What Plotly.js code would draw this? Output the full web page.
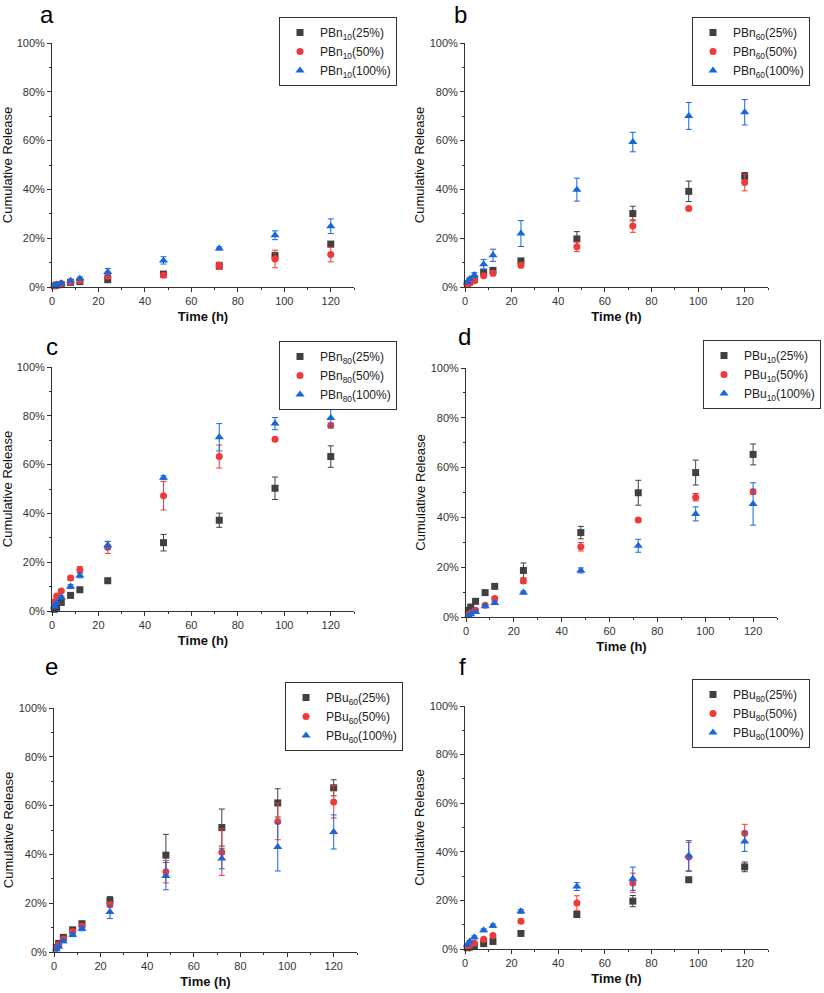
<!DOCTYPE html>
<html>
<head>
<meta charset="utf-8">
<script src="https://cdn.plot.ly/plotly-3.0.1.min.js"></script>
<style>
  html, body { margin: 0; padding: 0; background: #fff; }
  #chart { width: 824px; height: 993px; }
</style>
</head>
<body>
<div id="chart"></div>
<script>
// sampling times (h)
const times = [1, 2, 4, 8, 12, 24, 48, 72, 96, 120];

// a - PBn10
const pbn10_25 = [0.5, 0.8, 1.0, 1.9, 2.2, 3.0, 5.3, 8.7, 12.7, 17.6];
const pbn10_25_err = [0.2, 0.2, 0.3, 0.3, 0.4, 0.5, 0.6, 0.8, 1.5, 1.0];
const pbn10_50 = [0.5, 0.9, 1.4, 2.3, 2.7, 4.4, 4.8, 8.7, 11.5, 13.3];
const pbn10_50_err = [0.2, 0.3, 0.3, 0.4, 0.4, 0.8, 0.7, 1.5, 3.6, 3.0];
const pbn10_100 = [0.5, 1.0, 1.5, 2.6, 3.5, 6.1, 10.9, 15.8, 21.2, 24.9];
const pbn10_100_err = [0.2, 0.3, 0.3, 0.5, 0.6, 1.5, 1.5, 0.6, 1.8, 3.0];

// b - PBn60
const pbn60_25 = [1.4, 2.0, 3.0, 6.1, 6.8, 10.7, 19.7, 30.1, 39.2, 45.4];
const pbn60_25_err = [0.3, 0.4, 0.5, 0.6, 0.6, 0.6, 3.0, 3.0, 4.2, 1.5];
const pbn60_50 = [1.0, 1.6, 2.6, 4.6, 5.6, 8.9, 16.5, 25.0, 32.2, 42.8];
const pbn60_50_err = [0.3, 0.4, 0.5, 0.6, 1.0, 1.0, 2.0, 2.6, 0.6, 3.4];
const pbn60_100 = [1.9, 3.3, 4.9, 9.3, 13.0, 21.9, 39.9, 59.4, 70.1, 71.6];
const pbn60_100_err = [0.4, 0.6, 1.0, 2.0, 2.5, 5.3, 4.7, 4.0, 5.5, 5.2];

// c - PBn80
const pbn80_25 = [0.7, 1.4, 3.5, 6.4, 8.7, 12.4, 28.0, 37.2, 50.3, 63.3];
const pbn80_25_err = [0.3, 0.4, 0.5, 0.5, 0.6, 0.8, 3.4, 2.9, 4.6, 4.4];
const pbn80_50 = [3.8, 6.1, 8.2, 13.5, 16.9, 26.1, 47.2, 63.3, 70.4, 76.0];
const pbn80_50_err = [0.5, 0.5, 0.6, 0.8, 1.3, 2.5, 5.8, 4.7, 0.8, 1.0];
const pbn80_100 = [1.8, 3.4, 5.6, 10.0, 14.6, 26.9, 54.6, 71.2, 76.8, 79.1];
const pbn80_100_err = [0.4, 0.5, 0.6, 0.8, 1.0, 1.5, 0.8, 5.6, 2.5, 3.5];

// d - PBu10
const pbu10_25 = [2.7, 4.0, 6.3, 9.8, 12.3, 18.7, 33.9, 49.9, 58.0, 65.3];
const pbu10_25_err = [0.4, 0.5, 0.6, 0.6, 0.7, 3.0, 2.5, 5.0, 5.0, 4.2];
const pbu10_50 = [0.9, 1.6, 2.7, 4.7, 7.4, 14.5, 28.2, 39.0, 48.1, 50.3];
const pbu10_50_err = [0.3, 0.4, 0.5, 0.6, 0.7, 1.0, 1.7, 0.6, 1.5, 1.0];
const pbu10_100 = [0.5, 1.1, 2.0, 4.3, 5.6, 9.8, 18.7, 28.6, 41.4, 45.4];
const pbu10_100_err = [0.2, 0.3, 0.4, 0.5, 0.6, 0.6, 1.0, 2.6, 2.8, 8.5];

// e - PBu60
const pbu60_25 = [1.9, 3.5, 6.0, 9.1, 11.6, 21.1, 39.7, 51.0, 61.1, 67.3];
const pbu60_25_err = [0.4, 0.5, 0.6, 0.7, 0.8, 1.6, 8.5, 7.6, 5.8, 3.3];
const pbu60_50 = [1.4, 2.9, 5.2, 8.3, 10.6, 19.4, 32.9, 40.9, 53.5, 61.5];
const pbu60_50_err = [0.3, 0.4, 0.6, 0.7, 0.8, 1.0, 4.6, 9.5, 7.5, 6.6];
const pbu60_100 = [1.1, 2.2, 4.4, 7.1, 9.5, 16.4, 31.1, 38.3, 43.0, 49.2];
const pbu60_100_err = [0.3, 0.4, 0.6, 0.8, 0.8, 2.7, 5.6, 4.2, 9.8, 7.0];

// f - PBu80
const pbu80_25 = [0.5, 0.8, 1.4, 2.2, 3.1, 6.4, 14.2, 19.7, 28.5, 33.8];
const pbu80_25_err = [0.2, 0.2, 0.3, 0.3, 0.4, 0.5, 0.6, 2.3, 0.6, 2.0];
const pbu80_50 = [0.8, 1.5, 2.5, 4.0, 5.6, 11.4, 18.9, 27.2, 37.9, 47.6];
const pbu80_50_err = [0.2, 0.3, 0.4, 0.5, 0.6, 0.8, 3.0, 4.0, 6.0, 3.7];
const pbu80_100 = [1.8, 3.1, 4.8, 7.7, 9.6, 15.5, 25.7, 28.9, 38.4, 44.2];
const pbu80_100_err = [0.3, 0.4, 0.6, 0.6, 0.7, 0.8, 1.6, 4.8, 6.2, 4.0];

const loadings = ["25%", "50%", "100%"];

const W = 824, H = 993;
const FONT = "Liberation Sans, Arial, sans-serif";

// styles of the three loadings
const styles = [
    { color: "#404040", symbol: "square", size: 7 },
    { color: "#f03a3a", symbol: "circle", size: 7 },
    { color: "#1a66d9", symbol: "triangle-up", size: 8 },
];

// panel boxes in pixels: [left, right, top, bottom], legend top-right, letter centre
const panels = [
    { letter: "a", name: "PBn", sub: "10", data: [[pbn10_25, pbn10_25_err], [pbn10_50, pbn10_50_err], [pbn10_100, pbn10_100_err]],
      box: [52, 354, 43, 287], leg: [397, 17], lab: [47, 15] },
    { letter: "b", name: "PBn", sub: "60", data: [[pbn60_25, pbn60_25_err], [pbn60_50, pbn60_50_err], [pbn60_100, pbn60_100_err]],
      box: [465, 768, 43, 287], leg: [810, 17], lab: [460, 15] },
    { letter: "c", name: "PBn", sub: "80", data: [[pbn80_25, pbn80_25_err], [pbn80_50, pbn80_50_err], [pbn80_100, pbn80_100_err]],
      box: [52, 354, 367, 611], leg: [397, 341], lab: [52, 346] },
    { letter: "d", name: "PBu", sub: "10", data: [[pbu10_25, pbu10_25_err], [pbu10_50, pbu10_50_err], [pbu10_100, pbu10_100_err]],
      box: [466, 777, 368, 617], leg: [821, 340], lab: [464, 336] },
    { letter: "e", name: "PBu", sub: "60", data: [[pbu60_25, pbu60_25_err], [pbu60_50, pbu60_50_err], [pbu60_100, pbu60_100_err]],
      box: [54, 357, 708, 952], leg: [403, 682], lab: [51, 666] },
    { letter: "f", name: "PBu", sub: "80", data: [[pbu80_25, pbu80_25_err], [pbu80_50, pbu80_50_err], [pbu80_100, pbu80_100_err]],
      box: [465, 768, 706, 949], leg: [810, 679], lab: [462, 666] },
];

const traces = [];
const layout = {
    width: W,
    height: H,
    margin: { l: 0, r: 0, t: 0, b: 0 },
    paper_bgcolor: "#fff",
    plot_bgcolor: "#fff",
    font: { family: FONT, color: "#222" },
    showlegend: true,
    annotations: [],
};

panels.forEach((p, i) => {
    const n = i === 0 ? "" : String(i + 1);
    const legName = "legend" + n;

    p.data.forEach(([vals, errs], k) => {
        const s = styles[k];
        traces.push({
            type: "scatter",
            mode: "markers",
            x: times,
            y: vals,
            name: p.name + "<sub>" + p.sub + "</sub>(" + loadings[k] + ")",
            xaxis: "x" + n,
            yaxis: "y" + n,
            legend: legName,
            marker: { color: s.color, symbol: s.symbol, size: s.size },
            error_y: { type: "data", array: errs, visible: true, color: s.color, thickness: 1, width: 3 },
            cliponaxis: false,
        });
    });

    const [l, r, t, b] = p.box;
    layout["xaxis" + n] = {
        domain: [l / W, r / W],
        anchor: "y" + n,
        range: [0, 130],
        dtick: 20,
        tick0: 0,
        ticks: "outside",
        ticklen: 4,
        tickcolor: "#333",
        minor: { ticks: "outside", dtick: 10, ticklen: 2, tickcolor: "#333" },
        showline: true,
        linecolor: "#333",
        linewidth: 1,
        showgrid: false,
        zeroline: false,
        tickfont: { size: 11, color: "#333" },
        title: { text: "Time (h)", font: { size: 13, color: "#111", weight: 600 }, standoff: 5 },
    };
    layout["yaxis" + n] = {
        domain: [1 - b / H, 1 - t / H],
        anchor: "x" + n,
        range: [0, 100],
        dtick: 20,
        ticksuffix: "%",
        ticks: "outside",
        ticklen: 4,
        tickcolor: "#333",
        minor: { ticks: "outside", dtick: 10, ticklen: 2, tickcolor: "#333" },
        showline: true,
        linecolor: "#333",
        linewidth: 1,
        showgrid: false,
        zeroline: false,
        tickfont: { size: 11, color: "#333" },
        title: { text: "Cumulative Release", font: { size: 13, color: "#111" }, standoff: 2 },
    };
    layout[legName] = {
        x: p.leg[0] / W,
        y: 1 - p.leg[1] / H,
        xanchor: "right",
        yanchor: "top",
        bgcolor: "#fff",
        bordercolor: "#333",
        borderwidth: 1,
        font: { size: 12, color: "#222" },
        itemwidth: 30,
        tracegroupgap: 0,
    };
    layout.annotations.push({
        text: p.letter,
        xref: "paper",
        yref: "paper",
        x: p.lab[0] / W,
        y: 1 - p.lab[1] / H,
        xanchor: "center",
        yanchor: "middle",
        showarrow: false,
        font: { size: 24, color: "#000" },
    });
});

Plotly.newPlot("chart", traces, layout, { displayModeBar: false, staticPlot: true });
</script>
</body>
</html>
